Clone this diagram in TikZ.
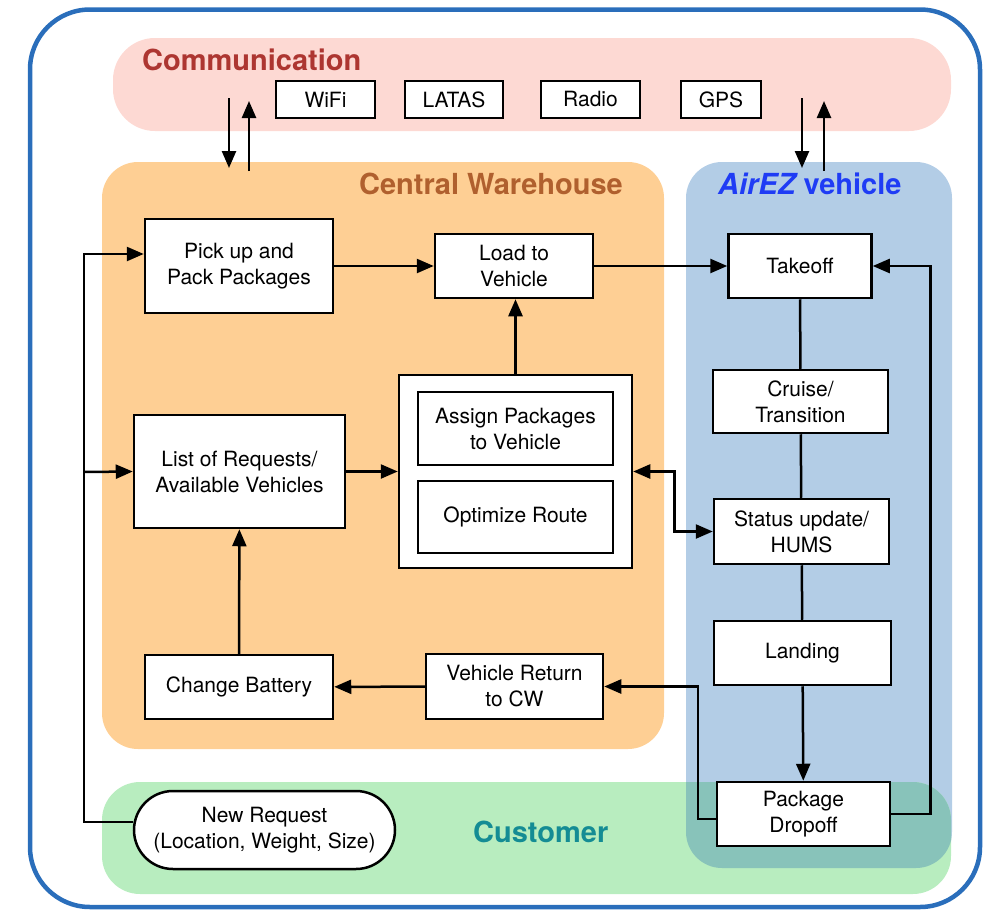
\documentclass[tikz,border=0pt]{standalone}
\usepackage{fontspec}
\setmainfont{TeX Gyre Heros}
\usetikzlibrary{arrows.meta}

\definecolor{framebl}{HTML}{2A6EBB}
\definecolor{commfill}{HTML}{FDD9D3}
\definecolor{commtxt}{HTML}{AD3631}
\definecolor{cwfill}{HTML}{FECF94}
\definecolor{cwtxt}{HTML}{B0602E}
\definecolor{vehfill}{HTML}{B3CDE6}
\definecolor{vehtxt}{HTML}{1F3CF5}
\definecolor{custfill}{HTML}{B8EDBF}
\definecolor{custtxt}{HTML}{148C94}
\definecolor{overlapfill}{HTML}{88C3BA}

\tikzset{
  blk/.style={draw, line width=2.5pt, fill=white, align=center, inner sep=0pt,
    font=\fontsize{21}{26}\selectfont},
  conn/.style={line width=2.5pt, ->},
  title/.style={font=\fontsize{29}{34}\selectfont\bfseries, inner sep=0pt},
  >={Triangle[length=17pt,width=14pt]}
}

\begin{document}
\begin{tikzpicture}[x=1pt,y=-1pt]
  \useasboundingbox (0,0) rectangle (994,910);
  % outer frame
  \draw[framebl, line width=4.5pt, rounded corners=60pt] (30,9.5) rectangle (980,907);
  % groups
  \fill[commfill, rounded corners=42pt] (113,38) rectangle (951,131);
  \fill[cwfill, rounded corners=36pt] (102,162) rectangle (664,749);
  \fill[vehfill, rounded corners=36pt] (686,162) rectangle (952,868);
  \fill[custfill, rounded corners=38pt] (102,782) rectangle (951,894);
  \begin{scope}
    \clip[rounded corners=38pt] (102,782) rectangle (951,894);
    \fill[overlapfill, rounded corners=36pt] (686,162) rectangle (952,868);
  \end{scope}
  % group titles
  \node[title, text=commtxt, anchor=base west] (commtitle) at (142,70) {Communication};
  \node[title, text=cwtxt, anchor=base east] (cwtitle) at (623,194) {Central Warehouse};
  \node[title, text=vehtxt, anchor=base west] (vehtitle) at (718,194) {{\itshape AirEZ} vehicle};
  \node[title, text=custtxt, anchor=base west] (custtitle) at (473,842) {Customer};
  % communication links
  \foreach \nm/\lab/\cx/\w in {wifi/WiFi/325.5/99, latas/LATAS/454/98, radio/Radio/590.5/99, gps/GPS/721/80}
    \node[blk, minimum width=\w pt, minimum height=37pt] (\nm) at (\cx,99.5) {\lab};
  % central warehouse
  \node[blk, minimum width=188pt, minimum height=94pt] (pick) at (239,266) {Pick up and\\Pack Packages};
  \node[blk, minimum width=158pt, minimum height=64pt] (load) at (514,266) {Load to\\Vehicle};
  \node[blk, minimum width=211pt, minimum height=113pt] (list) at (239.5,471.5) {List of Requests/\\Available Vehicles};
  \node[blk, minimum width=233pt, minimum height=193pt] (plan) at (515.5,471.5) {};
  \node[blk, minimum width=195pt, minimum height=73pt] (assign) at (515.5,428.5) {Assign Packages\\to Vehicle};
  \node[blk, minimum width=195pt, minimum height=72pt] (route) at (515.5,517) {Optimize Route};
  \node[blk, minimum width=188pt, minimum height=64pt] (battery) at (239,687) {Change Battery};
  \node[blk, minimum width=177pt, minimum height=65pt] (return) at (514.5,686.5) {Vehicle Return\\to CW};
  % customer
  \node[blk, rounded corners=39pt, minimum width=261pt, minimum height=78pt] (newreq) at (264.5,830) {New Request\\(Location, Weight, Size)};
  % vehicle
  \node[blk, minimum width=143pt, minimum height=64pt] (takeoff) at (800,266) {Takeoff};
  \node[blk, minimum width=175pt, minimum height=63pt] (cruise) at (800.5,401.5) {Cruise/\\Transition};
  \node[blk, minimum width=175pt, minimum height=65pt] (status) at (801.5,531.5) {Status update/\\HUMS};
  \node[blk, minimum width=177pt, minimum height=64pt] (landing) at (802.5,653) {Landing};
  \node[blk, minimum width=173pt, minimum height=64pt] (dropoff) at (803.5,814) {Package\\Dropoff};
  % arrows to and from communication
  \coordinate (commdnL) at (229,98);  \coordinate (cwdnL) at (229,168);
  \coordinate (cwupL) at (249,171);   \coordinate (commupL) at (249,101);
  \coordinate (commdnR) at (802,98);  \coordinate (vehdnR) at (802,168);
  \coordinate (vehupR) at (824,171);  \coordinate (commupR) at (824,101);
  \draw[conn] (commdnL) -- (cwdnL);
  \draw[conn] (cwupL) -- (commupL);
  \draw[conn] (commdnR) -- (vehdnR);
  \draw[conn] (vehupR) -- (commupR);
  % request flow
  \coordinate (trunk) at (84,472);
  \draw[conn] ([yshift=8pt]newreq.west) -| (trunk) |- ([yshift=12pt]pick.west);
  \draw[conn] (trunk) -- (list.west);
  \draw[conn] (pick) -- (load);
  \draw[conn] (load) -- (takeoff);
  \draw[conn] (list) -- (plan);
  \draw[conn] (plan.north) -- (plan.north |- load.south);
  \draw[conn] (battery) -- (list);
  \draw[conn] (return) -- (battery);
  % flight phases
  \draw[line width=2.5pt] (takeoff) -- (cruise) -- (status) -- (landing);
  \draw[conn] (landing) -- (dropoff);
  \draw[conn] (dropoff.east) -- ++(39,0) |- (takeoff.east);
  \draw[conn] ([yshift=-5pt]dropoff.west) -- ++(-18,0) |- (return.east);
  \draw[conn, <->] (plan.east) -- ++(41,0) |- (status.west);
\end{tikzpicture}
\end{document}
